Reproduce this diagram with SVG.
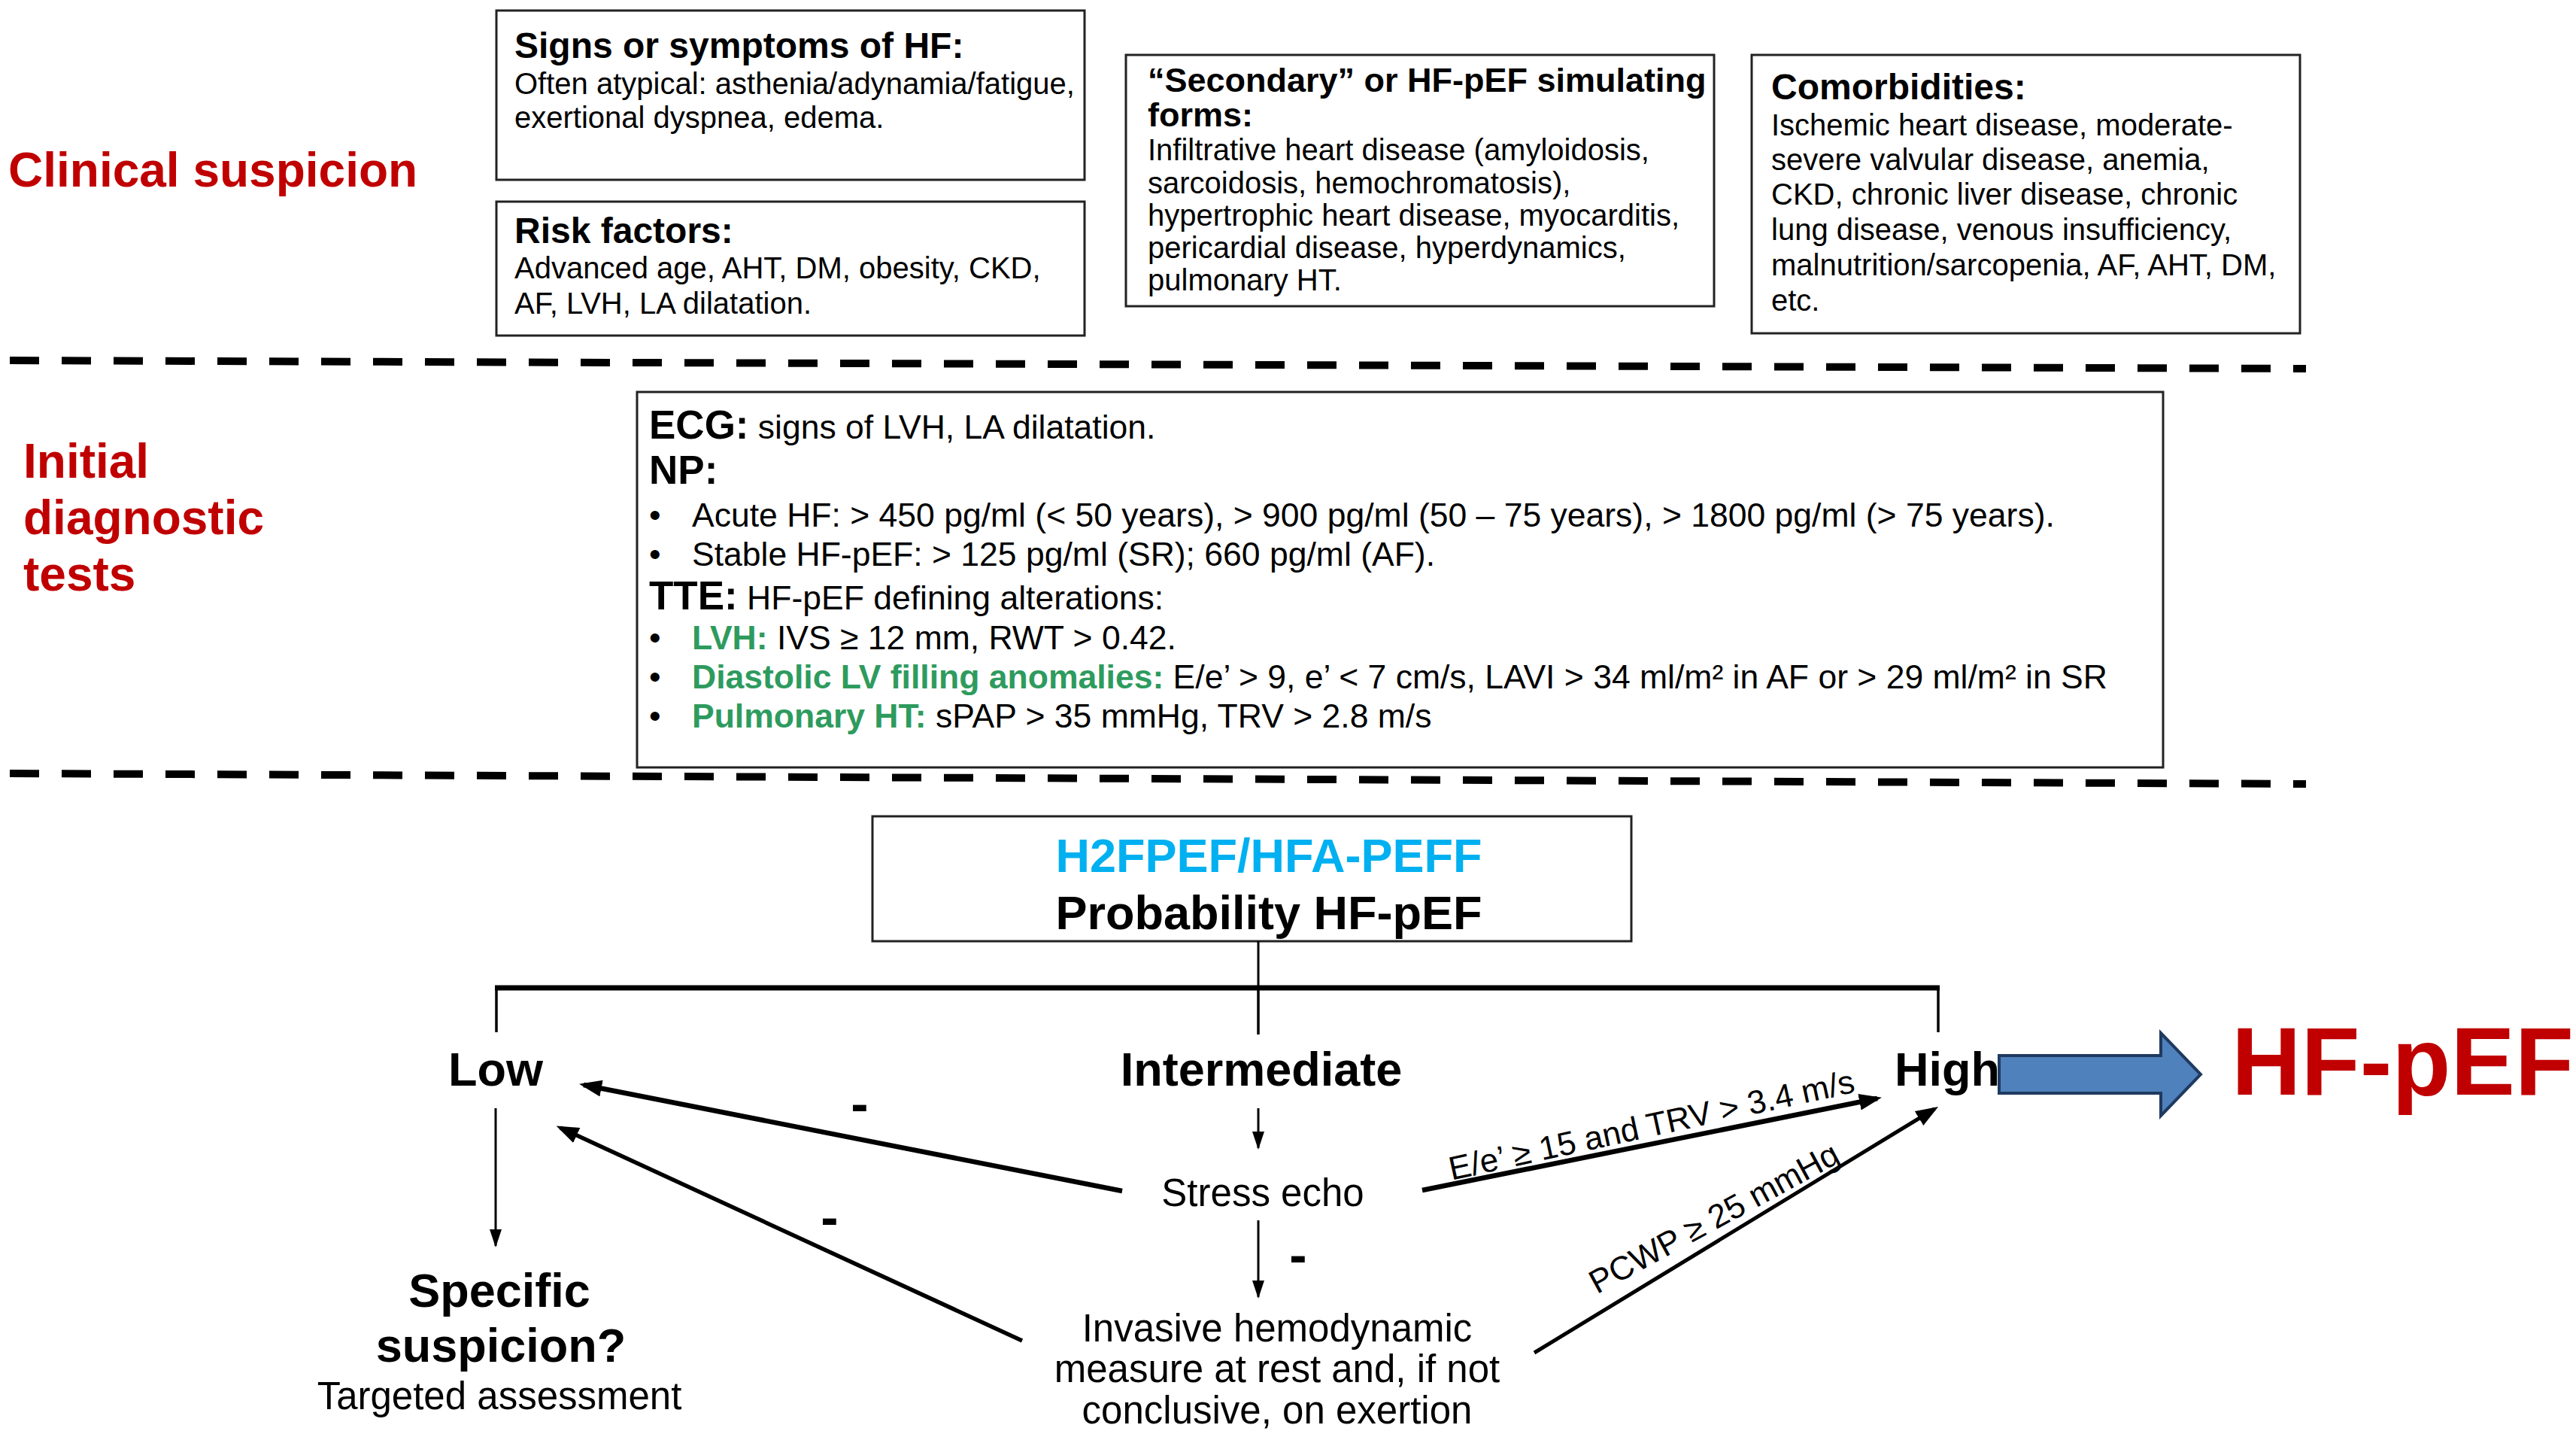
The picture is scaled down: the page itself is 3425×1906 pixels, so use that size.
<svg xmlns="http://www.w3.org/2000/svg" width="3425" height="1906" viewBox="0 0 3425 1906">
<defs>
<style>
text{font-family:"Liberation Sans",Arial,Helvetica,sans-serif;fill:#000}
.box{fill:#fff;stroke:#222;stroke-width:3}
.t{font-size:48px;font-weight:bold}
.b{font-size:40px}
.h{font-size:53px;font-weight:bold}
.e{font-size:44.5px}
.g{fill:#2e9b5e;font-weight:bold}
.red{fill:#c00000;font-weight:bold;font-size:64px}
.lvl{font-size:63px;font-weight:bold}
.m{font-size:51px}
.lab{font-size:44px}
.dash{stroke:#000;stroke-width:10;stroke-dasharray:39 30;fill:none}
.ln{stroke:#000;fill:none}
.minus{font-size:70px;font-weight:bold}
</style>
<marker id="ah" viewBox="0 0 30 22" markerUnits="userSpaceOnUse" markerWidth="30" markerHeight="22" refX="24" refY="11" orient="auto">
<path d="M0,0 L30,11 L0,22 z" fill="#000"/>
</marker>
<marker id="ahs" viewBox="0 0 24 16" markerUnits="userSpaceOnUse" markerWidth="24" markerHeight="16" refX="22" refY="8" orient="auto">
<path d="M0,0 L24,8 L0,16 z" fill="#000"/>
</marker>
</defs>
<rect width="3425" height="1906" fill="#fff"/>

<g id="section-labels">
<text class="red" x="11" y="248">Clinical suspicion</text>
<text class="red" x="31" y="635">Initial</text>
<text class="red" x="31" y="710">diagnostic</text>
<text class="red" x="31" y="785">tests</text>
</g>

<g id="separators">
<line class="dash" x1="13" y1="479" x2="3066" y2="490"/>
<line class="dash" x1="13" y1="1028" x2="3066" y2="1042"/>
</g>

<g id="node-signs">
<rect class="box" x="660" y="14" width="782" height="225"/>
<text class="t" x="684" y="77">Signs or symptoms of HF:</text>
<text class="b" x="684" y="125">Often atypical: asthenia/adynamia/fatigue,</text>
<text class="b" x="684" y="170">exertional dyspnea, edema.</text>
</g>

<g id="node-risk">
<rect class="box" x="660" y="268" width="782" height="178"/>
<text class="t" x="684" y="323">Risk factors:</text>
<text class="b" x="684" y="370">Advanced age, AHT, DM, obesity, CKD,</text>
<text class="b" x="684" y="417">AF, LVH, LA dilatation.</text>
</g>

<g id="node-secondary">
<rect class="box" x="1497" y="73" width="782" height="334"/>
<text class="t" x="1526" y="122" style="font-size:45px">“Secondary” or HF-pEF simulating</text>
<text class="t" x="1526" y="168" style="font-size:45px">forms:</text>
<text class="b" x="1526" y="213">Infiltrative heart disease (amyloidosis,</text>
<text class="b" x="1526" y="257">sarcoidosis, hemochromatosis),</text>
<text class="b" x="1526" y="300">hypertrophic heart disease, myocarditis,</text>
<text class="b" x="1526" y="343">pericardial disease, hyperdynamics,</text>
<text class="b" x="1526" y="386">pulmonary HT.</text>
</g>

<g id="node-comorbidities">
<rect class="box" x="2329" y="73" width="729" height="370"/>
<text class="t" x="2355" y="132">Comorbidities:</text>
<text class="b" x="2355" y="180">Ischemic heart disease, moderate-</text>
<text class="b" x="2355" y="226">severe valvular disease, anemia,</text>
<text class="b" x="2355" y="272">CKD, chronic liver disease, chronic</text>
<text class="b" x="2355" y="319">lung disease, venous insufficiency,</text>
<text class="b" x="2355" y="366">malnutrition/sarcopenia, AF, AHT, DM,</text>
<text class="b" x="2355" y="413">etc.</text>
</g>

<g id="node-tests">
<rect class="box" x="847" y="521" width="2029" height="499"/>
<text x="863" y="583"><tspan class="h">ECG:</tspan><tspan class="e"> signs of LVH, LA dilatation.</tspan></text>
<text class="h" x="863" y="643">NP:</text>
<text class="e" x="863" y="700">•</text>
<text class="e" x="920" y="700">Acute HF: &gt; 450 pg/ml (&lt; 50 years), &gt; 900 pg/ml (50 – 75 years), &gt; 1800 pg/ml (&gt; 75 years).</text>
<text class="e" x="863" y="752">•</text>
<text class="e" x="920" y="752">Stable HF-pEF: &gt; 125 pg/ml (SR); 660 pg/ml (AF).</text>
<text x="863" y="810"><tspan class="h">TTE:</tspan><tspan class="e"> HF-pEF defining alterations:</tspan></text>
<text class="e" x="863" y="863">•</text>
<text class="e" x="920" y="863"><tspan class="g">LVH:</tspan> IVS ≥ 12 mm, RWT &gt; 0.42.</text>
<text class="e" x="863" y="915">•</text>
<text class="e" x="920" y="915"><tspan class="g">Diastolic LV filling anomalies:</tspan> E/e’ &gt; 9, e’ &lt; 7 cm/s, LAVI &gt; 34 ml/m² in AF or &gt; 29 ml/m² in SR</text>
<text class="e" x="863" y="967">•</text>
<text class="e" x="920" y="967"><tspan class="g">Pulmonary HT:</tspan> sPAP &gt; 35 mmHg, TRV &gt; 2.8 m/s</text>
</g>

<g id="node-probability">
<rect class="box" x="1160" y="1085" width="1009" height="166"/>
<text class="lvl" x="1687" y="1159" text-anchor="middle" style="fill:#00b0f0">H2FPEF/HFA-PEFF</text>
<text class="lvl" x="1687" y="1235" text-anchor="middle">Probability HF-pEF</text>
</g>

<g id="node-low"><text class="lvl" x="659" y="1443" text-anchor="middle">Low</text></g>
<g id="node-intermediate"><text class="lvl" x="1677" y="1443" text-anchor="middle">Intermediate</text></g>
<g id="node-high"><text class="lvl" x="2519" y="1443">High</text></g>
<g id="node-hfpef"><text x="2967" y="1455" style="font-size:128px;font-weight:bold;fill:#c00000">HF-pEF</text></g>
<g id="node-stress"><text class="m" x="1679" y="1603" text-anchor="middle">Stress echo</text></g>
<g id="node-invasive">
<text class="m" x="1698" y="1783" text-anchor="middle">Invasive hemodynamic</text>
<text class="m" x="1698" y="1837" text-anchor="middle">measure at rest and, if not</text>
<text class="m" x="1698" y="1892" text-anchor="middle">conclusive, on exertion</text>
</g>
<g id="node-specific">
<text class="lvl" x="664" y="1737" text-anchor="middle">Specific</text>
<text class="lvl" x="666" y="1810" text-anchor="middle">suspicion?</text>
<text class="m" x="664" y="1873" text-anchor="middle">Targeted assessment</text>
</g>

<g id="connectors">
<line class="ln" stroke-width="3" x1="1673" y1="1251" x2="1673" y2="1313"/>
<line class="ln" stroke-width="7" x1="658" y1="1313" x2="2579" y2="1313"/>
<line class="ln" stroke-width="3.5" x1="660" y1="1313" x2="660" y2="1372"/>
<line class="ln" stroke-width="3.5" x1="1673" y1="1313" x2="1673" y2="1375"/>
<line class="ln" stroke-width="3.5" x1="2577" y1="1313" x2="2577" y2="1372"/>
<line class="ln" stroke-width="3" x1="1673" y1="1473" x2="1673" y2="1526" marker-end="url(#ahs)"/>
<line class="ln" stroke-width="3" x1="1673" y1="1622" x2="1673" y2="1724" marker-end="url(#ahs)"/>
<line class="ln" stroke-width="3" x1="659" y1="1473" x2="659" y2="1656" marker-end="url(#ahs)"/>
<line class="ln" stroke-width="6.5" x1="1492" y1="1583" x2="776" y2="1442" marker-end="url(#ah)"/>
<line class="ln" stroke-width="5.5" x1="1359" y1="1782" x2="745" y2="1499" marker-end="url(#ah)"/>
<line class="ln" stroke-width="6.5" x1="1891" y1="1582" x2="2496" y2="1460" marker-end="url(#ah)"/>
<line class="ln" stroke-width="5" x1="2040" y1="1798" x2="2572" y2="1474" marker-end="url(#ah)"/>
<path d="M2658,1403 L2873,1403 L2873,1373 L2926,1428 L2873,1483 L2873,1453 L2658,1453 Z" fill="#4f81bd" stroke="#1f3a5f" stroke-width="4" stroke-linejoin="miter"/>
<text class="lab" x="2199" y="1510" text-anchor="middle" transform="rotate(-12.3 2199 1510)">E/e’ ≥ 15 and TRV &gt; 3.4 m/s</text>
<text class="lab" x="2286" y="1632" text-anchor="middle" transform="rotate(-28.5 2286 1632)">PCWP ≥ 25 mmHg</text>
<text class="minus" x="1143" y="1491" text-anchor="middle">-</text>
<text class="minus" x="1103" y="1642" text-anchor="middle">-</text>
<text class="minus" x="1726" y="1692" text-anchor="middle">-</text>
</g>
</svg>
